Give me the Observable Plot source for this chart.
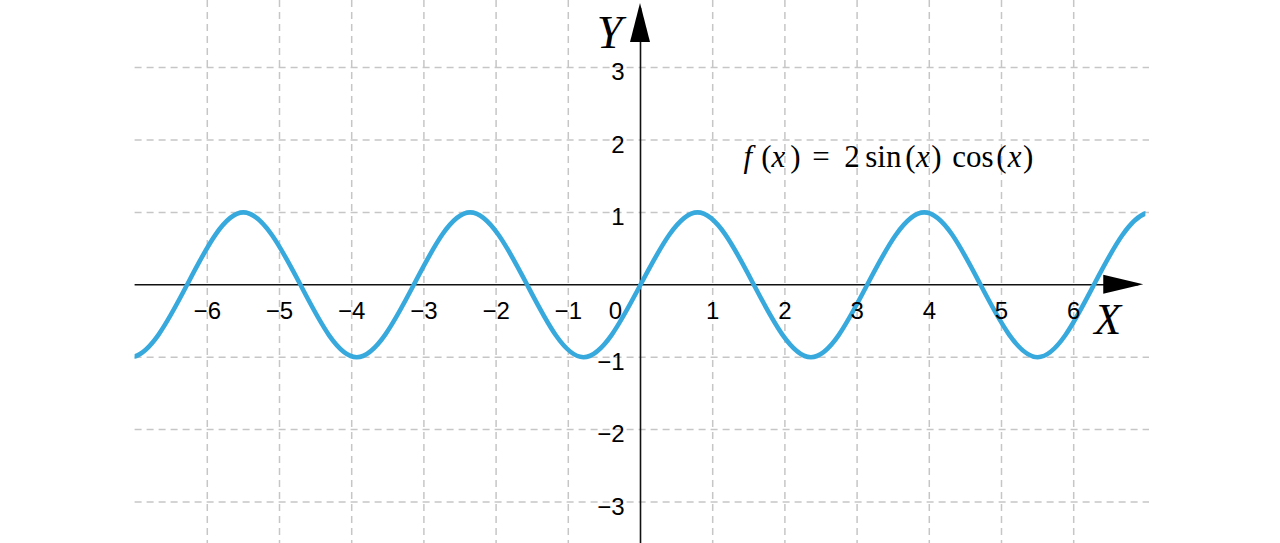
<!DOCTYPE html>
<html>
<head>
<meta charset="utf-8">
<script src="https://cdn.jsdelivr.net/npm/d3@7"></script>
<script src="https://cdn.jsdelivr.net/npm/@observablehq/plot@0.6"></script>
<style>
  html, body { margin: 0; padding: 0; background: #ffffff; }
  #chart svg { display: block; }
</style>
</head>
<body>
<div id="chart"></div>
<script>
// ---- data ----
// key points of the curve f(x) = 2 sin(x) cos(x): zeros, peaks and troughs (curve continues past the edges)
const curveX = [-7.85, -7.07, -6.28, -5.50, -4.71, -3.93, -3.14, -2.36, -1.57, -0.79, 0.00,
                 0.79,  1.57,  2.36,  3.14,  3.93,  4.71,  5.50,  6.28,  7.07,  7.85];
const curveY = [ 0.00, -1.00,  0.00,  1.00,  0.00, -1.00,  0.00,  1.00,  0.00, -1.00, 0.00,
                 1.00,  0.00, -1.00,  0.00,  1.00,  0.00, -1.00,  0.00,  1.00,  0.00];
const xTicks = [-6, -5, -4, -3, -2, -1, 1, 2, 3, 4, 5, 6];
const yTicks = [-3, -2, -1, 1, 2, 3];
const xTickLabels = ["−6", "−5", "−4", "−3", "−2", "−1", "1", "2", "3", "4", "5", "6"];
const yTickLabels = ["−3", "−2", "−1", "1", "2", "3"];
const formulaText = "f(x) = 2 sin(x) cos(x)";
const formulaParts = ["f", "(", "x", ")", "=", "2", "sin", "(", "x", ")", "cos", "(", "x", ")"];
const formulaItalic = [true, false, true, false, false, false, false, false, true, false, false, false, true, false];

// ---- layout ----
const W = 1280, H = 543;
const xDomain = [-7, 7];               // plotted x range (curve is clipped to it)
const pxX = 72.2, pxY = 72.4;          // pixels per unit
const originX = 640, originY = 284.3;  // pixel position of (0,0)
const sideMargin = originX - 7 * pxX;
const xAxisEnd = 6.97;                 // x-axis line ends at arrow tip
const gridXExtent = [-7, 7.05];
const formulaGaps = [0, 9, 0, 5, 11.7, 14.5, 5.5, 3.8, 0.5, 1.5, 10.7, 2.7, 1, 1.5]; // px gap before each piece
const formulaPos = {left: 743, baseline: 166};

const curve = curveX.map((x, i) => ({x, y: curveY[i]}));
const xLabels = xTicks.map((x, i) => ({x, label: xTickLabels[i]}));
const yLabels = yTicks.map((y, i) => ({y, label: yTickLabels[i]}));

// arrowheads (filled triangles) at the axis ends
const arrowXLen = 40 / pxX, arrowXHalf = 9.5 / pxY;
const arrowYLen = 39 / pxY, arrowYHalf = 10 / pxX;
const yTop = (originY - 3) / pxY;
const yBottom = -(H - originY) / pxY;
const arrowX = [
  {x: xAxisEnd - arrowXLen, y1: -arrowXHalf, y2: arrowXHalf},
  {x: xAxisEnd, y1: 0, y2: 0}
];
const arrowY = [
  {y: yTop - arrowYLen, x1: -arrowYHalf, x2: arrowYHalf},
  {y: yTop, x1: 0, x2: 0}
];

const sans = "Liberation Sans, Arial, sans-serif";
const serif = "Liberation Serif, Times New Roman, serif";
const gridColor = "#c6c6c6";

const chart = Plot.plot({
  width: W,
  height: H,
  marginTop: 0,
  marginBottom: 0,
  marginLeft: sideMargin,
  marginRight: sideMargin,
  x: {domain: xDomain, axis: null},
  y: {domain: [yBottom, originY / pxY], axis: null},
  style: {background: "#ffffff", overflow: "visible"},
  marks: [
    Plot.ruleX(xTicks, {stroke: gridColor, strokeWidth: 1.5, strokeDasharray: "7,5"}),
    Plot.ruleY(yTicks, {x1: gridXExtent[0], x2: gridXExtent[1], stroke: gridColor, strokeWidth: 1.5, strokeDasharray: "7,5"}),
    Plot.ruleY([0], {x1: xDomain[0], x2: xAxisEnd - 5 / pxX, stroke: "#111", strokeWidth: 1.6}),
    Plot.ruleX([0], {y1: yBottom, y2: yTop - 5 / pxY, stroke: "#111", strokeWidth: 1.6}),
    Plot.areaY(arrowX, {x: "x", y1: "y1", y2: "y2", fill: "#000"}),
    Plot.areaX(arrowY, {y: "y", x1: "x1", x2: "x2", fill: "#000"}),
    Plot.line(curve, {x: "x", y: "y", curve: "natural", stroke: "#37a9dc", strokeWidth: 4.6, clip: true}),
    Plot.text(xLabels, {x: "x", y: 0, text: "label", dy: 27, fontSize: 24, fontFamily: sans, fill: "#000", textAnchor: "middle"}),
    Plot.text(yLabels, {x: 0, y: "y", text: "label", dx: -16, dy: 5, fontSize: 24, fontFamily: sans, fill: "#000", textAnchor: "end"}),
    Plot.text(["0"], {x: 0, y: 0, text: d => d, dx: -25, dy: 27, fontSize: 24, fontFamily: sans, fill: "#000"}),
    Plot.text(["X"], {x: 6.47, y: 0, text: d => d, dy: 49, lineAnchor: "bottom", fontSize: 44, fontFamily: serif, fontStyle: "italic", fill: "#000"}),
    Plot.text(["Y"], {x: 0, y: 3, text: d => d, dx: -31, dy: -19.5, lineAnchor: "bottom", fontSize: 46, fontFamily: serif, fontStyle: "italic", fill: "#000"}),
    Plot.text([formulaText], {x: (formulaPos.left - originX) / pxX, y: (originY - formulaPos.baseline) / pxY, text: d => d, textAnchor: "start", lineAnchor: "bottom", fontSize: 31, fontFamily: serif, fill: "#000"})
  ]
});

document.getElementById("chart").appendChild(chart);

// render the formula with math-style italics for f and x, spaced like the typeset original
for (const ft of chart.querySelectorAll("text")) {
  if (ft.textContent !== formulaText) continue;
  ft.textContent = "";
  formulaParts.forEach((s, i) => {
    const ts = document.createElementNS("http://www.w3.org/2000/svg", "tspan");
    ts.textContent = s;
    if (formulaGaps[i]) ts.setAttribute("dx", formulaGaps[i]);
    if (formulaItalic[i]) ts.setAttribute("font-style", "italic");
    ft.appendChild(ts);
  });
}
</script>
</body>
</html>
